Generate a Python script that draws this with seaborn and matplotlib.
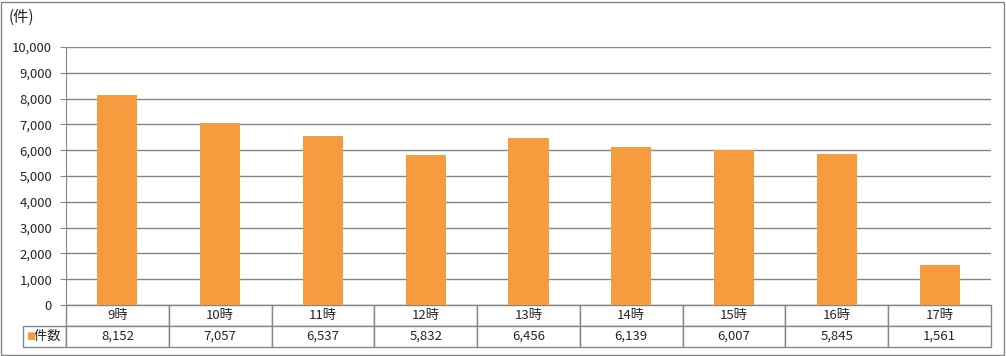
import matplotlib
matplotlib.use("Agg")
import matplotlib.pyplot as plt
import seaborn as sns
import pandas as pd
from matplotlib.patches import Rectangle

hours = ["9時", "10時", "11時", "12時", "13時", "14時", "15時", "16時", "17時"]
counts = [8152, 7057, 6537, 5832, 6456, 6139, 6007, 5845, 1561]
series_name = "件数"
unit_label = "(件)"

bar_color = "#F69C3E"
line_color = "#868686"

sns.set_style("white")
plt.rcParams["font.family"] = ["Noto Sans CJK JP", "DejaVu Sans"]

W, H = 1006, 356
fig = plt.figure(figsize=(W / 100, H / 100), dpi=100)
left, right, top, bottom = 66, 991, 47, 305
ax = fig.add_axes([left / W, 1 - bottom / H, (right - left) / W, (bottom - top) / H])

df = pd.DataFrame({"hour": hours, "count": counts})
sns.barplot(data=df, x="hour", y="count", color=bar_color, width=0.39,
            saturation=1, linewidth=0, ax=ax, zorder=3)

ax.set_ylim(0, 10000)
ax.set_xlim(-0.5, len(hours) - 0.5)
ax.set_yticks(range(0, 10001, 1000))
ax.set_yticklabels([f"{v:,}" for v in range(0, 10001, 1000)], fontsize=9.5)
ax.set_xticks([])
ax.set_xlabel("")
ax.set_ylabel("")
ax.yaxis.grid(True, color=line_color, linewidth=1)
ax.set_axisbelow(True)
for s in ["top", "right", "bottom"]:
    ax.spines[s].set_visible(False)
ax.spines["left"].set_color(line_color)
ax.tick_params(axis="y", left=True, length=4, color=line_color, pad=6)

# data table under the plot
plot_w = right - left
label_w = 43
row_h = 21
n = len(hours)
col_widths = [label_w] + [plot_w / n] * n
total_w = sum(col_widths)
cell_text = [[""] + hours, [series_name] + [f"{v:,}" for v in counts]]
tbl = ax.table(cellText=cell_text, colWidths=[c / total_w for c in col_widths],
               cellLoc="center",
               bbox=[-label_w / plot_w, -2 * row_h / (bottom - top),
                     total_w / plot_w, 2 * row_h / (bottom - top)])
tbl.auto_set_font_size(False)
for (r, c), cell in tbl.get_celld().items():
    cell.set_edgecolor(line_color)
    cell.set_linewidth(1)
    cell.get_text().set_fontsize(9.5)
    if r == 0 and c == 0:
        cell.visible_edges = ""
    if r == 1 and c == 0:
        cell.get_text().set_text("  " + series_name)
        cell.get_text().set_ha("center")

# legend key in the table
ax.text(-label_w / plot_w + 0.003, -1.5 * row_h / (bottom - top), "■",
        color=bar_color, fontsize=7, va="center", ha="left",
        transform=ax.transAxes, family=["DejaVu Sans"])

fig.text(9 / W, 1 - 17 / H, unit_label, fontsize=11, va="center", ha="left")
fig.patches.append(Rectangle((1 / W, 1 / H), (W - 3) / W, (H - 3) / H,
                             transform=fig.transFigure, fill=False,
                             edgecolor=line_color, linewidth=1))

fig.savefig("out.png", dpi=100)
